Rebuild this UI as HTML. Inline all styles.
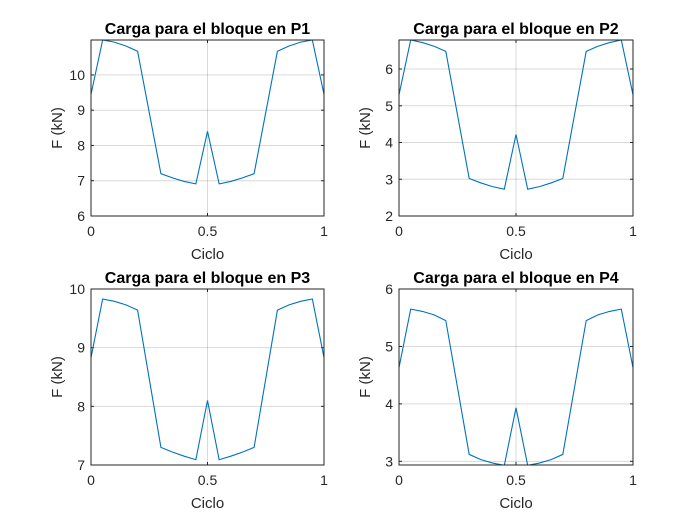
<!DOCTYPE html>
<html><head><meta charset="utf-8"><style>
body{margin:0;background:#fff;width:700px;height:525px;overflow:hidden}
svg{display:block;font-family:"Liberation Sans",sans-serif}
</style></head><body>
<svg id="fig" width="700" height="525" viewBox="0 0 700 525"></svg>
<script>
const xs = [0,0.05,0.1,0.15,0.2,0.3,0.35,0.4,0.45,0.5,0.55,0.6,0.65,0.7,0.8,0.85,0.9,0.95,1];
const p1 = [9.45,10.99,10.93,10.82,10.67,7.2,7.08,6.98,6.91,8.4,6.91,6.98,7.08,7.2,10.67,10.82,10.93,10.99,9.45];
const p2 = [5.3,6.79,6.72,6.62,6.48,3.02,2.9,2.8,2.73,4.22,2.73,2.8,2.9,3.02,6.48,6.62,6.72,6.79,5.3];
const p3 = [8.83,9.83,9.79,9.73,9.64,7.3,7.22,7.15,7.09,8.1,7.09,7.15,7.22,7.3,9.64,9.73,9.79,9.83,8.83];
const p4 = [4.63,5.65,5.61,5.55,5.45,3.12,3.03,2.97,2.93,3.93,2.93,2.97,3.03,3.12,5.45,5.55,5.61,5.65,4.63];
const xTicks = [0,0.5,1];
const xTickLabels = ["0","0.5","1"];
const titles = ["Carga para el bloque en P1","Carga para el bloque en P2","Carga para el bloque en P3","Carga para el bloque en P4"];
const yTicks1 = [6,7,8,9,10];
const yTicks2 = [2,3,4,5,6];
const yTicks3 = [7,8,9,10];
const yTicks4 = [3,4,5,6];
const ylims = [[6,10.99],[2,6.79],[7,10],[2.936,6]];

const NS="http://www.w3.org/2000/svg";
const svg=document.getElementById('fig');
function mk(tag,attrs,parent){const e=document.createElementNS(NS,tag);for(const k in attrs)e.setAttribute(k,attrs[k]);(parent||svg).appendChild(e);return e;}
const boxes=[[91,40,324,216],[399,40,633,216],[91,289,324,465],[399,289,633,465]];
const series=[p1,p2,p3,p4];
const yt=[yTicks1,yTicks2,yTicks3,yTicks4];
const defs=mk('defs',{});
boxes.forEach((b,i)=>{
  const [x0,y0,x1,y1]=b;const [ymin,ymax]=ylims[i];
  const sx=v=>x0+(v-0)/(1-0)*(x1-x0);
  const sy=v=>y1-(v-ymin)/(ymax-ymin)*(y1-y0);
  const g=mk('g',{});
  
  
  const cp=mk('clipPath',{id:'c'+i},defs);mk('rect',{x:x0,y:y0,width:x1-x0,height:y1-y0},cp);
  mk('rect',{x:x0,y:y0,width:x1-x0,height:y1-y0,fill:'#fff'},g);
  xTicks.forEach((t,k)=>{
    const x=sx(t);
    const gl=mk('line',{x1:x,x2:x,y1:y0,y2:y1,stroke:'#000','stroke-opacity':0.15,'stroke-width':1},g);
    
    mk('line',{x1:x,x2:x,y1:y1,y2:y1-3,stroke:'#262626'},g);mk('line',{x1:x,x2:x,y1:y0,y2:y0+3,stroke:'#262626'},g);
    const tx=mk('text',{x:x,y:y1+20,'text-anchor':'middle','font-size':14,fill:'#262626'},g);tx.textContent=xTickLabels[k];
    
  });
  yt[i].forEach(t=>{
    const y=sy(t);
    const gl=mk('line',{x1:x0,x2:x1,y1:y,y2:y,stroke:'#000','stroke-opacity':0.15,'stroke-width':1},g);
    
    mk('line',{x1:x0,x2:x0+3,y1:y,y2:y,stroke:'#262626'},g);mk('line',{x1:x1,x2:x1-3,y1:y,y2:y,stroke:'#262626'},g);
    const tx=mk('text',{x:x0-6,y:y+5,'text-anchor':'end','font-size':14,fill:'#262626'},g);tx.textContent=String(t);
    
  });
  const pts=xs.map((v,k)=>sx(v).toFixed(2)+','+sy(series[i][k]).toFixed(2)).join(' ');
  const ln=mk('polyline',{points:pts,fill:'none',stroke:'#0072BD','stroke-width':1.1,'clip-path':'url(#c'+i+')'},g);
  
  const fr=mk('rect',{x:x0,y:y0,width:x1-x0,height:y1-y0,fill:'none',stroke:'#262626','stroke-width':1},g);
  
  const ti=mk('text',{x:(x0+x1)/2,y:y0-6,'text-anchor':'middle','font-size':16,'font-weight':'bold',fill:'#000'},g);ti.textContent=titles[i];
  
  const xl=mk('text',{x:(x0+x1)/2,y:y1+43,'text-anchor':'middle','font-size':15,fill:'#262626'},g);xl.textContent='Ciclo';
  
  const cy=(y0+y1)/2,cx=x0-29;
  const yl=mk('text',{x:cx,y:cy,'text-anchor':'middle','font-size':15,fill:'#262626',transform:'rotate(-90 '+cx+' '+cy+')'},g);yl.textContent='F (kN)';
  
});
</script>
</body></html>
